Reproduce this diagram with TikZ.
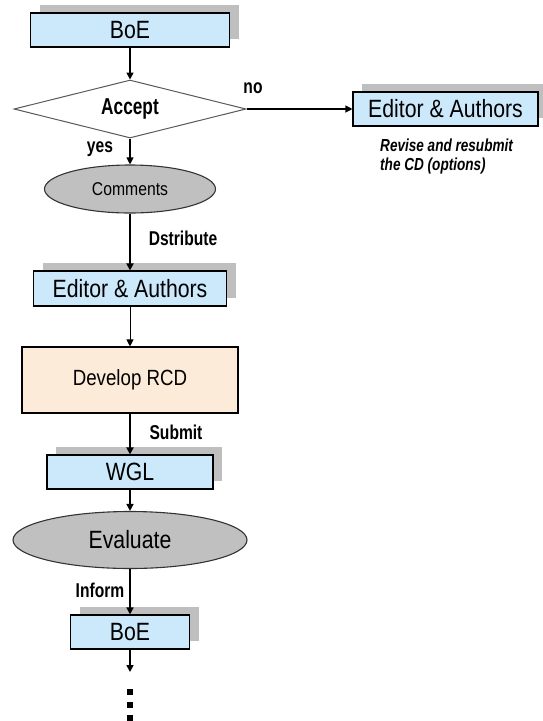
\documentclass[tikz,border=0pt]{standalone}
\usepackage{fontspec}
\setmainfont{Liberation Sans}
\newfontfamily\boxfont[FakeStretch=0.85]{Liberation Sans}
\newfontfamily\labfont[FakeStretch=0.78]{Liberation Sans}
\newfontfamily\accfont[FakeStretch=0.75]{Liberation Sans}
\usetikzlibrary{shapes.geometric,shadows,arrows.meta}

\definecolor{boxblue}{HTML}{CCE9FB}
\definecolor{peach}{HTML}{FDEBDA}
\definecolor{ovalgray}{HTML}{C0C0C0}
\definecolor{shadegray}{HTML}{BFBFBF}

\tikzset{
  bluebox/.style={rectangle, draw=black, line width=1.1pt, fill=boxblue,
    inner sep=0pt, font=\boxfont\fontsize{25}{28}\selectfont,
    general shadow={fill=shadegray, shadow xshift=9pt, shadow yshift=8pt}},
  oval/.style={ellipse, draw=black!80, line width=1.1pt, fill=ovalgray, inner sep=0pt},
  decision/.style={diamond, aspect=4, draw=black!65, line width=1pt, fill=white,
    inner sep=0pt, font=\accfont\bfseries\fontsize{23}{25}\selectfont},
  lab/.style={font=\labfont\bfseries\fontsize{20}{22}\selectfont, inner sep=0pt},
  note/.style={font=\labfont\bfseries\itshape\fontsize{17.4}{19}\selectfont,
    inner sep=0pt, align=left},
  flow/.style={-{Triangle[length=7pt,width=7pt]}, line width=1.6pt},
  thinflow/.style={-{Triangle[length=7pt,width=7pt]}, line width=1.1pt},
  dotmark/.style={rectangle, fill=black, inner sep=0pt, minimum size=5.5pt},
}

\begin{document}
\begin{tikzpicture}[x=1pt, y=-1pt]
\useasboundingbox (0,0) rectangle (543,721);

% main chain
\node[bluebox, minimum width=199pt, minimum height=34pt] (boe1) at (130,30) {BoE};
\node[decision, minimum width=232pt, minimum height=58pt] (acc) at (130,109) {Accept};
\node[bluebox, minimum width=185pt, minimum height=34pt] (ea1) at (445.5,109) {Editor \& Authors};
\node[oval, minimum width=171pt, minimum height=48pt,
  font=\boxfont\fontsize{18.5}{21}\selectfont] (com) at (130,189) {Comments};
\node[bluebox, minimum width=193pt, minimum height=35pt] (ea2) at (130,288.5) {Editor \& Authors};
\node[rectangle, draw=black, line width=1.1pt, fill=peach, inner sep=0pt,
  minimum width=216pt, minimum height=66pt,
  font=\boxfont\fontsize{22}{25}\selectfont] (dev) at (130,380) {Develop RCD};
\node[bluebox, minimum width=166pt, minimum height=34pt] (wgl) at (130,472) {WGL};
\node[oval, minimum width=234pt, minimum height=57pt,
  font=\boxfont\fontsize{25}{28}\selectfont] (eva) at (130,540) {Evaluate};
\node[bluebox, minimum width=119pt, minimum height=34pt] (boe2) at (130,632) {BoE};
\coordinate (cont) at (130,672);

% continuation dots
\node[dotmark] (d1) at (130,692) {};
\node[dotmark] (d2) at (130,705) {};
\node[dotmark] (d3) at (130,718) {};

% labels
\node[lab] (lno) at (253,88) {no};
\node[lab] (lyes) at (100,149) {yes};
\node[lab] (ldis) at (183,238) {Dstribute};
\node[lab] (lsub) at (176,432) {Submit};
\node[lab] (linf) at (100,590) {Inform};
\node[note, anchor=north west] (rev) at (380,139) {Revise and resubmit\\the CD (options)};

% connectors
\draw[flow] (boe1.south) -- (acc.north);
\draw[thinflow] (acc.east) -- (ea1.west);
\draw[thinflow] (acc.south) -- (com.north);
\draw[flow, line width=2pt] (com.south) -- (ea2.north);
\draw[thinflow, line width=0.9pt] (ea2.south) -- (dev.north);
\draw[flow, line width=2pt] (dev.south) -- (wgl.north);
\draw[flow] (wgl.south) -- (eva.north);
\draw[flow] (eva.south) -- (boe2.north);
\draw[flow] (boe2.south) -- (cont);
\end{tikzpicture}
\end{document}
